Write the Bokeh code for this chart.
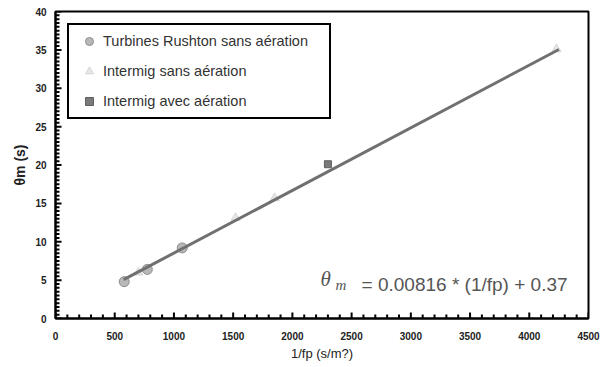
from bokeh.plotting import figure
from bokeh.models import Range1d, SingleIntervalTicker, Legend, LegendItem
from bokeh.core.properties import value
from bokeh.embed import file_html
from bokeh.resources import INLINE
import math

# Data
rushton_x = [580, 775, 1070]
rushton_y = [4.8, 6.4, 9.2]
intermig_x = [700, 1520, 1850, 4230]
intermig_y = [6.0, 13.1, 15.7, 35.1]
aer_x = [2300]
aer_y = [20.1]
fit_x = [575, 4250]
fit_y = [5.06, 35.05]

series_labels = ["Turbines Rushton sans aération", "Intermig sans aération", "Intermig avec aération"]
eq_text = "= 0.00816 * (1/fp) + 0.37"

x_major = list(range(0, 4501, 500))
x_minor = [v for v in range(0, 4501, 100) if v % 500]
y_major = list(range(0, 41, 5))
y_minor = [v / 2 for v in range(0, 81) if v % 10]

p = figure(width=611, height=367, output_backend="svg", toolbar_location=None,
           x_range=Range1d(0, 4500), y_range=Range1d(0, 40),
           min_border_left=55, min_border_right=23, min_border_top=11, min_border_bottom=49)
p.xgrid.visible = False
p.ygrid.visible = False
p.outline_line_color = "black"
p.outline_line_width = 2
p.outline_line_alpha = 1.0
p.background_fill_color = "white"
p.border_fill_color = "white"

p.xaxis.ticker = SingleIntervalTicker(interval=500, num_minor_ticks=5)
p.yaxis.ticker = SingleIntervalTicker(interval=5, num_minor_ticks=10)
for ax in (p.xaxis[0], p.yaxis[0]):
    ax.axis_line_color = "black"
    ax.axis_line_width = 2
    ax.major_tick_in = 0
    ax.major_tick_out = 0
    ax.minor_tick_in = 0
    ax.minor_tick_out = 0
    ax.major_label_text_font = "Liberation Sans"
    ax.major_label_text_font_size = "10px"
    ax.major_label_text_font_style = "bold"
    ax.major_label_text_color = "#222222"
    ax.axis_label_text_font = "Liberation Sans"
    ax.axis_label_text_color = "#222222"
    ax.axis_label_text_font_style = "normal"

p.xaxis.major_label_standoff = 13
p.yaxis.major_label_standoff = 9
p.xaxis.axis_label = "1/fp (s/m?)"
p.xaxis.axis_label_text_font_size = "13px"
p.xaxis.axis_label_standoff = 3
p.yaxis.axis_label = "θm (s)"
p.yaxis.axis_label_text_font_size = "14px"
p.yaxis.axis_label_text_font_style = "bold"
p.yaxis.axis_label_standoff = 4

# inward tick marks (drawn as dashes centred on the axes, clipped by the frame)
p.scatter(x_minor, [0] * len(x_minor), marker="dash", size=8, angle=math.pi / 2,
          line_color="black", line_width=2)
p.scatter(x_major, [0] * len(x_major), marker="dash", size=12, angle=math.pi / 2,
          line_color="black", line_width=2)
p.scatter([0] * len(y_minor), y_minor, marker="dash", size=8,
          line_color="black", line_width=2)
p.scatter([0] * len(y_major), y_major, marker="dash", size=12,
          line_color="black", line_width=2)

r1 = p.scatter(rushton_x, rushton_y, marker="circle", size=10,
               fill_color="#b8b8b8", line_color="#8c8c8c", line_width=1)
r2 = p.scatter(intermig_x, intermig_y, marker="triangle", size=9,
               fill_color="#e6e6e6", line_color="#d6d6d6", line_width=1)
r3 = p.scatter(aer_x, aer_y, marker="square", size=7,
               fill_color="#7a7a7a", line_color="#606060", line_width=1)
p.line(fit_x, fit_y, line_color="#707070", line_width=3)

# Equation annotation
p.text(x=[2237], y=[5.21], text=["θ"], text_font=value("Liberation Serif"),
       text_font_style="italic", text_font_size="21px", text_color="#555555",
       text_align="left", text_baseline="alphabetic")
p.text(x=[2364], y=[4.30], text=["m"], text_font=value("Liberation Serif"),
       text_font_style="italic", text_font_size="15px", text_color="#555555",
       text_align="left", text_baseline="alphabetic")
p.text(x=[2584], y=[4.43], text=[eq_text], text_font=value("Liberation Sans"),
       text_font_size="19px", text_color="#555555",
       text_align="left", text_baseline="alphabetic")

legend = Legend(items=[LegendItem(label=series_labels[0], renderers=[r1]),
                       LegendItem(label=series_labels[1], renderers=[r2]),
                       LegendItem(label=series_labels[2], renderers=[r3])],
                location="top_left", margin=12, padding=6, spacing=10,
                glyph_width=28, glyph_height=20, label_height=20, label_width=220,
                label_standoff=0, border_line_color="black", border_line_width=2,
                border_line_alpha=1.0,
                label_text_font="Liberation Sans", label_text_font_size="14.5px",
                label_text_color="#333333", background_fill_alpha=1.0)
p.add_layout(legend, "center")

open("out.html", "w").write(file_html(p, INLINE))
